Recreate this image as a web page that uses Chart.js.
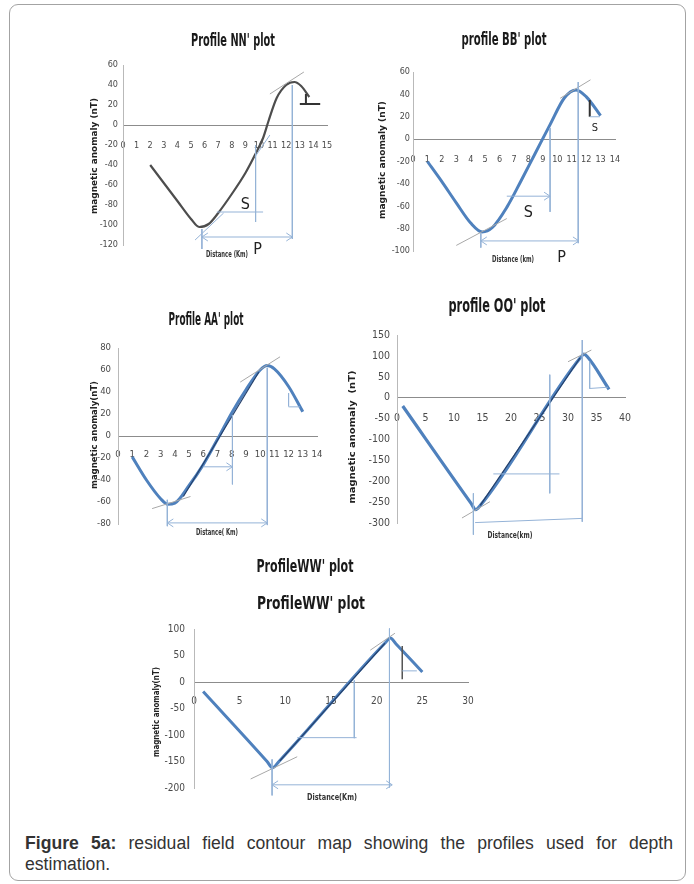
<!DOCTYPE html>
<html>
<head>
<meta charset="utf-8">
<script src="https://cdn.jsdelivr.net/npm/chart.js@4.4.1/dist/chart.umd.min.js"></script>
<style>
  html, body { margin: 0; padding: 0; background: #fff; }
  body { width: 694px; height: 884px; position: relative; overflow: hidden; }
  .frame { position: absolute; left: 9px; top: 4px; width: 677px; height: 877px;
           border: 1px solid #a3a3a3; border-radius: 9px; box-sizing: border-box; }
  canvas.plot { position: absolute; }
  .caption { position: absolute; left: 25px; top: 833px; width: 648px;
             font: 17.6px "Liberation Sans", Arial, sans-serif; color: #333; line-height: 21px; }
  .caption .l1 { text-align: justify; text-align-last: justify; white-space: nowrap; }
</style>
</head>
<body>
<div class="frame"></div>
<canvas id="nn" class="plot"></canvas>
<canvas id="bb" class="plot"></canvas>
<canvas id="aa" class="plot"></canvas>
<canvas id="oo" class="plot"></canvas>
<canvas id="ww" class="plot"></canvas>
<div class="caption">
  <div class="l1"><b>Figure 5a:</b> residual field contour map showing the profiles used for depth</div>
  <div>estimation.</div>
</div>

<script>
// ---------- Profile NN' ----------
const nnDistance = [2, 3, 4, 5, 5.6, 6.3, 7, 8, 9, 9.7, 10.3, 10.7, 11.3, 12, 12.6, 13.1, 13.7];
const nnAnomaly  = [-40, -58, -76, -94, -102, -99, -88, -69, -48, -30, -13, 4, 27, 40, 43, 39, 28];
const nnXTicks = [0, 1, 2, 3, 4, 5, 6, 7, 8, 9, 10, 11, 12, 13, 14, 15];
const nnYTicks = [60, 40, 20, 0, -20, -40, -60, -80, -100, -120];
const nnGuides   = [[9.75, -20, 9.75, -97], [6.9, -87, 10.3, -87], [12.45, 40, 12.45, -114],
                    [5.8, -104, 5.8, -124], [5.3, -115, 7.4, -88], [9.7, -32, 10.8, -10]];
const nnTangents = [[10.8, 31, 13.3, 53]];
const nnMarks    = [[13.45, 31, 13.45, 21], [13.0, 21, 14.5, 21]];
const nnArrows   = [[5.8, 12.45, -112, 'both']];
const nnNotes    = [['S', 9.0, -80], ['P', 9.9, -125]];

// ---------- Profile BB' ----------
const bbDistance = [1, 2, 3, 4, 4.8, 5.5, 6.5, 7.5, 8.5, 9.5, 10.5, 11.3, 12, 13];
const bbAnomaly  = [-20, -38, -57, -75, -83, -79, -61, -37, -12, 13, 37, 44, 38, 21];
const bbXTicks = [0, 1, 2, 3, 4, 5, 6, 7, 8, 9, 10, 11, 12, 13, 14];
const bbYTicks = [60, 40, 20, 0, -20, -40, -60, -80, -100];
const bbGuides   = [[9.5, 10, 9.5, -65], [11.45, 51, 11.45, -93], [4.7, -84, 4.7, -97], [12.25, 20, 12.95, 20]];
const bbTangents = [[3.0, -95, 6.5, -71], [10.2, 36.5, 12.3, 53]];
const bbMarks    = [[12.25, 35, 12.25, 20]];
const bbArrows   = [[6.5, 9.5, -51, 'end'], [4.7, 11.5, -91, 'both']];
const bbNotes    = [['S', 8.0, -66], ['S', 12.6, 10, 11], ['P', 10.3, -106]];

// ---------- Profile AA' ----------
const aaDistance = [1, 2, 3, 3.5, 4, 5, 6, 7, 8, 9, 10, 10.5, 11, 12, 13];
const aaAnomaly  = [-19, -40, -57, -62, -61, -45, -26, -3, 21, 42, 60, 64, 61, 45, 22];
const aaXTicks = [0, 1, 2, 3, 4, 5, 6, 7, 8, 9, 10, 11, 12, 13, 14];
const aaYTicks = [80, 60, 40, 20, 0, -20, -40, -60, -80];
const aaGuides   = [[8.05, 19, 8.05, -44], [10.5, 62, 10.5, -81], [3.47, -58, 3.47, -82],
                    [12.0, 39, 12.0, 27], [12.0, 26.5, 12.8, 26.5]];
const aaTangents = [[2.4, -66, 5.1, -55], [8.6, 49, 11.4, 72]];
const aaSlope    = [[4.6, -55, 9.9, 58]];
const aaArrows   = [[6.0, 8.05, -28, 'end'], [3.47, 10.5, -79, 'both']];

// ---------- Profile OO' ----------
const ooDistance = [1, 13, 13.8, 14.6, 32.2, 32.8, 33.4, 37.2];
const ooAnomaly  = [-20, -253, -268, -258, 96, 104, 98, 20];
const ooXTicks = [0, 5, 10, 15, 20, 25, 30, 35, 40];
const ooYTicks = [150, 100, 50, 0, -50, -100, -150, -200, -250, -300];
const ooGuides   = [[13.4, -229, 13.4, -328], [32.5, 138, 32.5, -297], [26.8, 55, 26.8, -229],
                    [16.9, -182.5, 28.5, -182.5], [13.7, -299, 32.5, -289], [33.8, 86, 33.8, 22], [33.8, 22, 37, 25]];
const ooTangents = [[11.4, -288, 16.3, -249], [30, 86, 34.1, 114]];
const ooSlope    = [[14.6, -258, 32.1, 95]];

// ---------- Profile WW' ----------
const wwDistance = [1, 8, 8.6, 9.3, 21, 21.5, 22.1, 25];
const wwAnomaly  = [-18, -150, -162, -150, 75, 83, 72, 19];
const wwXTicks = [0, 5, 10, 15, 20, 25, 30];
const wwYTicks = [100, 50, 0, -50, -100, -150, -200];
const wwGuides   = [[8.55, -146, 8.55, -214], [21.4, 101, 21.4, -199], [17.55, 3, 17.55, -106],
                    [11.3, -105, 17.8, -105], [22.8, 21, 24.4, 21]];
const wwTangents = [[6.2, -183, 11.3, -141], [19.3, 60, 22, 92]];
const wwMarks    = [[22.8, 68, 22.8, 5]];
const wwSlope    = [[9.4, -149, 20.9, 73]];
const wwArrows   = [[8.55, 21.7, -194, 'both']];

// ---------- drawing ----------
const NARROW = '"Liberation Sans Narrow", "DejaVu Sans Condensed", "Liberation Sans", sans-serif';
const GUIDE = '#95b3d7', TANGENT = '#a8a8a8', BLUE = '#4f81bd';

function pts(xs, ys) { return xs.map((v, i) => ({ x: v, y: ys[i] })); }
function seg(s, color, width, order) {
  return { data: [{ x: s[0], y: s[1] }, { x: s[2], y: s[3] }], borderColor: color, borderWidth: width,
           showLine: true, pointRadius: 0, tension: 0, clip: false, order: order };
}

function fitText(ctx, text, cx, cy, size, bold, width, color, vertical) {
  ctx.save();
  ctx.font = (bold ? 'bold ' : '') + size + 'px ' + NARROW;
  const w = ctx.measureText(text).width;
  ctx.translate(cx, cy);
  if (vertical) ctx.rotate(-Math.PI / 2);
  ctx.scale(width / w, 1);
  ctx.fillStyle = color;
  ctx.textAlign = 'center';
  ctx.textBaseline = 'middle';
  ctx.fillText(text, 0, 0);
  ctx.restore();
}

function chevron(ctx, px, py, dir) {
  ctx.beginPath();
  ctx.moveTo(px - dir * 6, py - 4);
  ctx.lineTo(px, py);
  ctx.lineTo(px - dir * 6, py + 4);
  ctx.stroke();
}

const specs = {};
const decor = {
  id: 'decor',
  afterDatasetsDraw(chart) {
    const sp = specs[chart.canvas.id];
    const ctx = chart.ctx, xs = chart.scales.x, ys = chart.scales.y;
    ctx.save();
    ctx.strokeStyle = GUIDE; ctx.lineWidth = 1;
    (sp.arrows || []).forEach(([a, b, v, heads]) => {
      const py = ys.getPixelForValue(v);
      chevron(ctx, xs.getPixelForValue(b), py, 1);
      if (heads === 'both') chevron(ctx, xs.getPixelForValue(a), py, -1);
    });
    (sp.notes || []).forEach(([t, x, y, size]) => {
      ctx.font = (size || 16) + 'px ' + NARROW;
      ctx.fillStyle = '#222'; ctx.textAlign = 'center'; ctx.textBaseline = 'middle';
      ctx.fillText(t, xs.getPixelForValue(x), ys.getPixelForValue(y));
    });
    ctx.restore();
  },
  afterDraw(chart) {
    const sp = specs[chart.canvas.id];
    const ctx = chart.ctx, ox = sp.box[0], oy = sp.box[1];
    sp.titles.forEach(t => fitText(ctx, t.text, t.cx - ox, t.cy - oy, t.size, true, t.w, '#1a1a1a', false));
    const yt = sp.yTitle, xt = sp.xTitle;
    fitText(ctx, yt.text, yt.cx - ox, yt.cy - oy, yt.size, true, yt.w, '#222', true);
    fitText(ctx, xt.text, xt.cx - ox, xt.cy - oy, xt.size, true, xt.w, '#333', false);
  }
};

function profile(sp) {
  specs[sp.id] = sp;
  const cv = document.getElementById(sp.id);
  const [bx, by, bw, bh] = sp.box;
  cv.width = bw; cv.height = bh;
  cv.style.left = bx + 'px'; cv.style.top = by + 'px';
  cv.style.width = bw + 'px'; cv.style.height = bh + 'px';
  const A = sp.area;
  const datasets = [{
    data: pts(sp.xs, sp.ys), borderColor: sp.color, borderWidth: sp.lineWidth, showLine: true,
    pointRadius: 0, cubicInterpolationMode: 'monotone', clip: false, order: 3
  }];
  (sp.guides || []).forEach(s => datasets.push(seg(s, GUIDE, 1, 1)));
  (sp.tangents || []).forEach(s => datasets.push(seg(s, TANGENT, 1, 1)));
  (sp.slope || []).forEach(s => datasets.push(seg(s, '#233f6a', 1.2, 2)));
  (sp.marks || []).forEach(s => datasets.push(seg(s, sp.markColor || '#333', sp.markWidth || 2, 1)));
  (sp.arrows || []).forEach(([a, b, v]) => datasets.push(seg([a, v, b, v], GUIDE, 1, 1)));
  const tickFont = { family: NARROW, size: sp.tickSize };
  new Chart(cv, {
    type: 'scatter',
    data: { datasets },
    options: {
      responsive: false, animation: false, devicePixelRatio: 1,
      layout: { padding: { left: 0, top: A[1] - by, right: bx + bw - A[2], bottom: by + bh - A[3] } },
      plugins: { legend: { display: false }, tooltip: { enabled: false }, title: { display: false } },
      scales: {
        x: {
          type: 'linear', position: { y: 0 },
          min: sp.xTicks[0], max: sp.xTicks[sp.xTicks.length - 1],
          afterBuildTicks: s => { s.ticks = sp.xTicks.map(v => ({ value: v })); },
          grid: { display: false, drawTicks: false },
          border: { display: true, color: '#8c8c8c', width: 1 },
          ticks: { font: tickFont, color: '#4a4a4a', padding: sp.xPad, maxRotation: 0, autoSkip: false,
                   callback: v => String(v) }
        },
        y: {
          type: 'linear',
          min: Math.min(...sp.yTicks), max: Math.max(...sp.yTicks),
          afterBuildTicks: s => { s.ticks = sp.yTicks.slice().sort((a, b) => a - b).map(v => ({ value: v })); },
          afterFit: s => { s.width = A[0] - bx; },
          grid: { display: false, drawTicks: false },
          border: { display: true, color: '#b9b9b9', width: 1 },
          ticks: { font: tickFont, color: '#4a4a4a', padding: sp.yPad, autoSkip: false,
                   callback: v => String(v) }
        }
      }
    },
    plugins: [decor]
  });
}

profile({
  id: 'nn', box: [60, 20, 290, 255], area: [123, 65, 327, 245],
  xs: nnDistance, ys: nnAnomaly, xTicks: nnXTicks, yTicks: nnYTicks,
  color: '#4d4d4d', lineWidth: 2.2, tickSize: 9, xPad: 15, yPad: 5,
  guides: nnGuides, tangents: nnTangents, marks: nnMarks, arrows: nnArrows, notes: nnNotes,
  titles: [{ text: "Profile NN' plot", cx: 233, cy: 41, size: 18, w: 84 }],
  yTitle: { text: 'magnetic anomaly (nT)', cx: 95, cy: 156, size: 8, w: 116 },
  xTitle: { text: 'Distance (Km)', cx: 227, cy: 255, size: 8, w: 42 }
});

profile({
  id: 'bb', box: [360, 20, 290, 260], area: [413, 72, 615, 251],
  xs: bbDistance, ys: bbAnomaly, xTicks: bbXTicks, yTicks: bbYTicks,
  color: BLUE, lineWidth: 3, tickSize: 9, xPad: 15, yPad: 3,
  guides: bbGuides, tangents: bbTangents, marks: bbMarks, arrows: bbArrows, notes: bbNotes,
  titles: [{ text: "profile BB' plot", cx: 504, cy: 40, size: 18, w: 85 }],
  yTitle: { text: 'magnetic anomaly (nT)', cx: 383, cy: 160, size: 8, w: 118 },
  xTitle: { text: 'Distance (km)', cx: 513, cy: 260, size: 8, w: 42 }
});

profile({
  id: 'aa', box: [60, 300, 280, 245], area: [118, 348, 317, 524],
  xs: aaDistance, ys: aaAnomaly, xTicks: aaXTicks, yTicks: aaYTicks,
  color: BLUE, lineWidth: 3, tickSize: 9.5, xPad: 13, yPad: 7,
  guides: aaGuides, tangents: aaTangents, slope: aaSlope, arrows: aaArrows,
  titles: [{ text: "Profile AA' plot", cx: 206, cy: 320, size: 18, w: 75 }],
  yTitle: { text: 'magnetic anomaly(nT)', cx: 95, cy: 435, size: 8, w: 108 },
  xTitle: { text: 'Distance( Km)', cx: 217, cy: 533, size: 8, w: 42 }
});

profile({
  id: 'oo', box: [335, 285, 315, 263], area: [397, 335, 625, 523],
  xs: ooDistance, ys: ooAnomaly, xTicks: ooXTicks, yTicks: ooYTicks,
  color: BLUE, lineWidth: 3.2, tickSize: 10.5, xPad: 14, yPad: 7,
  guides: ooGuides, tangents: ooTangents, slope: ooSlope,
  titles: [{ text: "profile OO' plot", cx: 497, cy: 307, size: 19, w: 97 }],
  yTitle: { text: 'magnetic anomaly  (nT)', cx: 353, cy: 437, size: 9.5, w: 133 },
  xTitle: { text: 'Distance(km)', cx: 510, cy: 536, size: 9, w: 45 }
});

profile({
  id: 'ww', box: [130, 555, 370, 255], area: [194, 629, 468, 788],
  xs: wwDistance, ys: wwAnomaly, xTicks: wwXTicks, yTicks: wwYTicks,
  color: BLUE, lineWidth: 3, tickSize: 10, xPad: 13, yPad: 9,
  guides: wwGuides, tangents: wwTangents, marks: wwMarks, markColor: '#555', markWidth: 1.5,
  slope: wwSlope, arrows: wwArrows,
  titles: [{ text: "ProfileWW' plot", cx: 305, cy: 568, size: 17, w: 97 },
           { text: "ProfileWW' plot", cx: 311, cy: 605, size: 17, w: 108 }],
  yTitle: { text: 'magnetic anomaly(nT)', cx: 157, cy: 712, size: 8, w: 90 },
  xTitle: { text: 'Distance(Km)', cx: 332, cy: 798, size: 8.5, w: 50 }
});
</script>
</body>
</html>
